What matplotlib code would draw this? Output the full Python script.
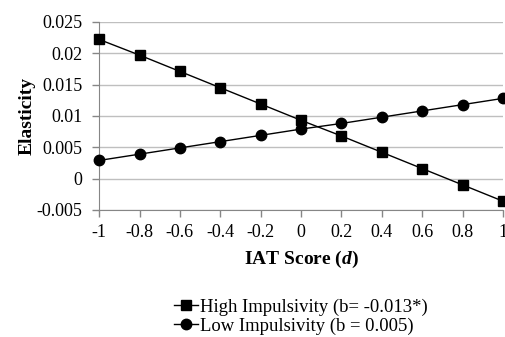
import matplotlib
matplotlib.use('Agg')
import matplotlib.pyplot as plt
import numpy as np

# IAT score on the x axis, elasticity on the y axis
iat = [-1, -0.8, -0.6, -0.4, -0.2, 0, 0.2, 0.4, 0.6, 0.8, 1]
high_imp = [0.0222, 0.0197, 0.0171, 0.0145, 0.0119, 0.0093,
            0.0068, 0.0042, 0.0016, -0.0010, -0.0036]
low_imp = [0.0029, 0.0039, 0.0049, 0.0059, 0.0069, 0.0079,
           0.0088, 0.0098, 0.0108, 0.0118, 0.0128]
yticks = [-0.005, 0, 0.005, 0.01, 0.015, 0.02, 0.025]
ytick_labels = ['-0.005', '0', '0.005', '0.01', '0.015', '0.02', '0.025']
xtick_labels = ['-1', '-0.8', '-0.6', '-0.4', '-0.2', '0', '0.2', '0.4', '0.6', '0.8', '1']

plt.rcParams['font.family'] = 'Liberation Serif'
plt.rcParams['mathtext.fontset'] = 'custom'
plt.rcParams['mathtext.rm'] = 'Liberation Serif'
plt.rcParams['mathtext.bf'] = 'Liberation Serif:bold'
plt.rcParams['mathtext.it'] = 'Liberation Serif:italic:bold'

fig = plt.figure(figsize=(5.06, 3.37), dpi=100)
ax = fig.add_axes([0.196, 0.377, 0.798, 0.558])

ax.plot(iat, high_imp, color='black', lw=1, marker='s', ms=7.5,
        label='High Impulsivity (b= -0.013*)', clip_on=False, zorder=3)
ax.plot(iat, low_imp, color='black', lw=1, marker='o', ms=7.5,
        label='Low Impulsivity (b = 0.005)', clip_on=False, zorder=3)

ax.set_xlim(-1, 1)
ax.set_ylim(-0.005, 0.025)
ax.set_xticks(iat)
ax.set_xticklabels(xtick_labels)
ax.set_yticks(yticks)
ax.set_yticklabels(ytick_labels)
ax.tick_params(labelsize=13, color='#868686', length=5, width=1)
ax.tick_params(axis='y', pad=7)
ax.tick_params(axis='x', pad=5)
ax.yaxis.grid(True, color='#BFBFBF', lw=1)
ax.set_axisbelow(True)
for s in ['top', 'right']:
    ax.spines[s].set_visible(False)
for s in ['left', 'bottom']:
    ax.spines[s].set_color('#868686')

ax.set_ylabel('Elasticity', fontsize=14, fontweight='bold', labelpad=1)
ax.set_xlabel(r'IAT Score ($d$)', fontsize=14, fontweight='bold', labelpad=6)

fig.legend(loc='upper left', bbox_to_anchor=(0.344, 0.114), frameon=False,
           fontsize=13.4, handlelength=1.3, handletextpad=0.1,
           labelspacing=0.1, borderpad=0, borderaxespad=0)

plt.savefig('out.png', dpi=100)
